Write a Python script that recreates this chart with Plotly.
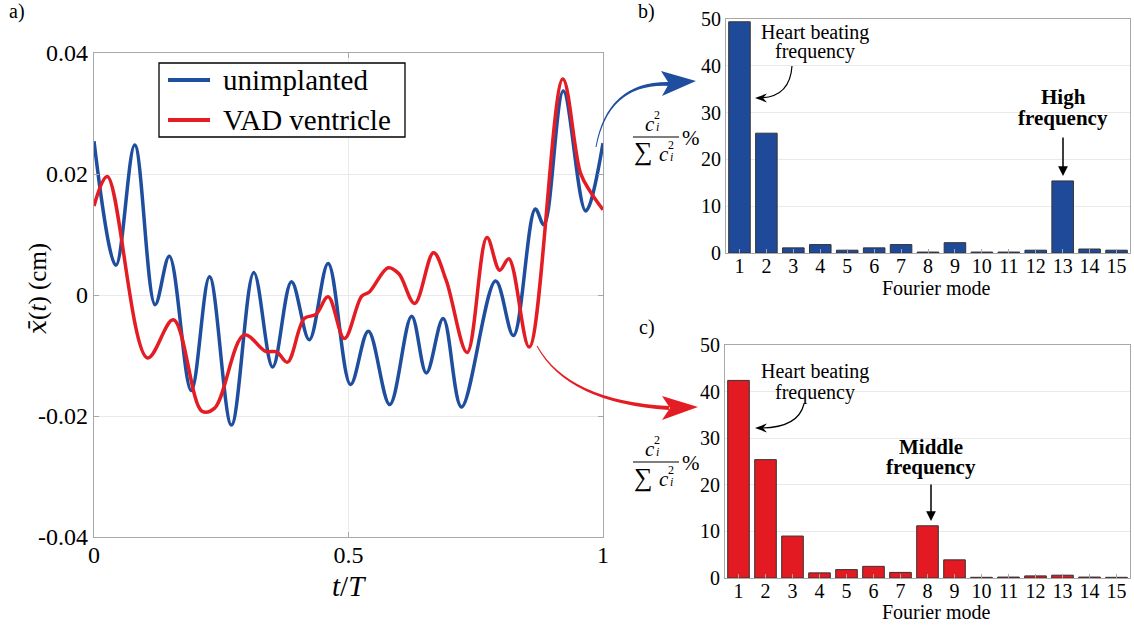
import numpy as np
import plotly.graph_objects as go

W, H = 1134, 625

# ---------------- data ----------------
t_unimplanted = [0.0, 0.043, 0.080, 0.120, 0.148, 0.191, 0.227, 0.270, 0.314, 0.351, 0.388,
                 0.423, 0.460, 0.504, 0.539, 0.581, 0.624, 0.653, 0.686, 0.722, 0.789, 0.824,
                 0.867, 0.884, 0.922, 0.966, 1.0]
x_unimplanted = [0.0254, 0.0049, 0.0248, -0.0016, 0.0064, -0.0158, 0.0030, -0.0215, 0.0037,
                 -0.0119, 0.0022, -0.0074, 0.0052, -0.0148, -0.0060, -0.0181, -0.0035, -0.0129,
                 -0.0039, -0.0185, 0.0023, -0.0067, 0.0142, 0.0116, 0.0337, 0.0139, 0.0251]

t_vad = [0.0, 0.026, 0.105, 0.156, 0.212, 0.237, 0.295, 0.337, 0.359, 0.380, 0.413, 0.436,
         0.460, 0.492, 0.526, 0.541, 0.578, 0.599, 0.630, 0.667, 0.692, 0.733, 0.772, 0.797,
         0.815, 0.855, 0.921, 0.956, 0.975, 1.0]
x_vad = [0.0147, 0.0196, -0.0104, -0.0041, -0.0192, -0.0187, -0.0066, -0.0093, -0.0094,
         -0.0111, -0.0039, -0.0032, -0.0003, -0.0072, -0.0002, 0.0005, 0.0045, 0.0035,
         -0.0014, 0.0070, 0.0024, -0.0095, 0.0095, 0.0041, 0.0060, -0.0086, 0.0357, 0.0201,
         0.0171, 0.0141]

series_names = ['unimplanted', 'VAD ventricle']

modes = list(range(1, 16))
energy_unimplanted = [49.4, 25.6, 1.1, 1.8, 0.6, 1.1, 1.8, 0.2, 2.2, 0.2, 0.2, 0.6, 15.4, 0.85, 0.6]
energy_vad = [42.4, 25.4, 9.0, 1.1, 1.8, 2.5, 1.2, 11.2, 3.9, 0.15, 0.2, 0.45, 0.6, 0.2, 0.15]

y_ticks = [-0.04, -0.02, 0, 0.02, 0.04]
y_ticktext = ['-0.04', '-0.02', '0', '0.02', '0.04']
x_ticks = [0, 0.5, 1]
x_ticktext = ['0', '0.5', '1']
bar_yticks = [0, 10, 20, 30, 40, 50]

BLUE = '#1f4e9f'
RED = '#e41c24'
FONT = 'Liberation Serif, Times New Roman, serif'
FRAME = '#a8a8a8'
GRID = '#e9e9e9'


def px(x):
    return x / W


def py(y):
    return 1 - y / H


def pt(p):
    return f"{px(p[0]):.5f},{py(p[1]):.5f}"


fig = go.Figure()

fig.add_trace(go.Scatter(x=t_unimplanted, y=x_unimplanted, mode='lines', name=series_names[0],
                         line=dict(color=BLUE, width=3.5, shape='spline', smoothing=1.0),
                         xaxis='x', yaxis='y', showlegend=False))
fig.add_trace(go.Scatter(x=t_vad, y=x_vad, mode='lines', name=series_names[1],
                         line=dict(color=RED, width=3.5, shape='spline', smoothing=1.0),
                         xaxis='x', yaxis='y', showlegend=False))

fig.add_trace(go.Bar(x=modes, y=energy_unimplanted, width=0.8, showlegend=False,
                     marker=dict(color='#1f4a9a', line=dict(color='#333333', width=1)),
                     xaxis='x2', yaxis='y2'))
fig.add_trace(go.Bar(x=modes, y=energy_vad, width=0.8, showlegend=False,
                     marker=dict(color='#e31a22', line=dict(color='#333333', width=1)),
                     xaxis='x3', yaxis='y3'))

common = dict(showline=True, linecolor=FRAME, linewidth=1.2, mirror='ticks', ticks='inside',
              tickcolor=FRAME, ticklen=5, zeroline=False, gridcolor=GRID, automargin=False,
              tickfont=dict(family=FONT, size=24, color='black'))

bar_x = dict(showline=True, linecolor=FRAME, linewidth=1.2, mirror=True, ticks='inside',
             tickcolor=FRAME, ticklen=4, zeroline=False, showgrid=False, automargin=False,
             ticklabelstandoff=-5,
             range=[0.5, 15.5], tickvals=modes, tickfont=dict(family=FONT, size=20, color='black'))
bar_y = dict(showline=True, linecolor=FRAME, linewidth=1.2, mirror=True, ticks='',
             zeroline=False, showgrid=True, gridcolor=GRID, range=[0, 50], tickvals=bar_yticks,
             automargin=False, tickfont=dict(family=FONT, size=20, color='black'))

fig.update_layout(
    width=W, height=H, autosize=False,
    margin=dict(l=0, r=0, t=0, b=0, autoexpand=False),
    paper_bgcolor='white', plot_bgcolor='white',
    font=dict(family=FONT, color='black'),
    xaxis=dict(domain=[px(94), px(603)], range=[0, 1], tickvals=x_ticks, ticktext=x_ticktext,
               anchor='y', ticklabelstandoff=-4, **common),
    yaxis=dict(domain=[py(537), py(53)], range=[-0.04, 0.04], tickvals=y_ticks,
               ticktext=y_ticktext, anchor='x', **common),
    xaxis2=dict(domain=[px(726), px(1130)], anchor='y2', **bar_x),
    yaxis2=dict(domain=[py(253), py(19)], anchor='x2', **bar_y),
    xaxis3=dict(domain=[px(725), px(1130)], anchor='y3', **bar_x),
    yaxis3=dict(domain=[py(578), py(345)], anchor='x3', **bar_y),
    showlegend=False,
)

ann = []


def text(x, y, s, size=20, **kw):
    d = dict(x=px(x), y=py(y), xref='paper', yref='paper', text=s, showarrow=False,
             xanchor='center', yanchor='middle', font=dict(family=FONT, size=size, color='black'))
    d.update(kw)
    ann.append(d)


shapes = []

# legend (drawn box, samples, labels)
shapes.append(dict(type='rect', xref='paper', yref='paper', x0=px(159), x1=px(405),
                   y0=py(137), y1=py(63), line=dict(color='black', width=1.3),
                   fillcolor='white', layer='above'))
for yy, col, name in ((80, BLUE, series_names[0]), (120, RED, series_names[1])):
    shapes.append(dict(type='line', xref='paper', yref='paper', x0=px(168), x1=px(210),
                       y0=py(yy), y1=py(yy), line=dict(color=col, width=4), layer='above'))
    text(221, yy, name, 29, xanchor='left')

# panel labels
text(17, 12, 'a)', 20)
text(646, 12, 'b)', 20)
text(647, 327, 'c)', 20)

# axis titles
text(38, 289, '<span style="font-family:DejaVu Serif"><i>x̄</i></span>(<i>t</i>) (cm)', 25,
     textangle=-90)
text(349, 586, '<i>t</i>/<i>T</i>', 29)
text(936, 288, 'Fourier mode', 20)
text(936, 612, 'Fourier mode', 20)

# annotations b)
text(815, 32, 'Heart beating', 20)
text(815, 52, 'frequency', 20)
text(1063, 97, '<b>High</b>', 21)
text(1063, 118, '<b>frequency</b>', 21)
# annotations c)
text(815, 372, 'Heart beating', 20)
text(815, 392, 'frequency', 20)
text(931, 447, '<b>Middle</b>', 21)
text(931, 467, '<b>frequency</b>', 21)

# fraction labels  c_i^2 / sum c_i^2 %
for yc in (137, 462):
    text(650, yc - 13, '<i>c</i>', 21)
    text(657, yc - 22, '2', 12)
    text(657, yc - 10, '<i>i</i>', 12)
    text(643, yc + 15, '∑', 26)
    text(664, yc + 17, '<i>c</i>', 21)
    text(671, yc + 8, '2', 12)
    text(671, yc + 20, '<i>i</i>', 12)
    text(680, yc + 1, '%', 21, xanchor='left')
    shapes.append(dict(type='line', xref='paper', yref='paper', x0=px(633), x1=px(679),
                       y0=py(yc), y1=py(yc), line=dict(color='black', width=1.2)))

# straight arrows
for tip, length in (((1063, 176), 40), ((931, 521), 38)):
    ann.append(dict(x=px(tip[0]), y=py(tip[1]), xref='paper', yref='paper', text='',
                    showarrow=True, ax=0, ay=-length, arrowhead=2, arrowsize=1.3,
                    arrowwidth=1.5, arrowcolor='black'))


def tapered(p0, c, p1, w0, w1, color):
    p0, c, p1 = np.array(p0, float), np.array(c, float), np.array(p1, float)

    def nrm(d):
        d = d / np.linalg.norm(d)
        return np.array([-d[1], d[0]])
    n0, nc, n1 = nrm(c - p0), nrm(p1 - p0), nrm(p1 - c)
    a0, b0 = p0 + n0 * w0 / 2, p0 - n0 * w0 / 2
    ac, bc = c + nc * (w0 + w1) / 4, c - nc * (w0 + w1) / 4
    a1, b1 = p1 + n1 * w1 / 2, p1 - n1 * w1 / 2
    path = f"M {pt(a0)} Q {pt(ac)} {pt(a1)} L {pt(b1)} Q {pt(bc)} {pt(b0)} Z"
    shapes.append(dict(type='path', xref='paper', yref='paper', path=path,
                       fillcolor=color, line=dict(width=0)))


def head(pts, color):
    path = 'M ' + ' L '.join(pt(p) for p in pts) + ' Z'
    shapes.append(dict(type='path', xref='paper', yref='paper', path=path,
                       fillcolor=color, line=dict(width=0)))


def curve(p0, c, p1, color, width):
    path = f"M {pt(p0)} Q {pt(c)} {pt(p1)}"
    shapes.append(dict(type='path', xref='paper', yref='paper', path=path,
                       line=dict(color=color, width=width)))


# big connecting arrows
tapered((596, 147), (608, 82), (669, 84), 1.0, 4.0, BLUE)
head([(696, 81), (661, 71), (669, 83.5), (662, 96)], BLUE)
tapered((537, 346), (568, 402), (669, 408), 1.0, 4.0, RED)
head([(698, 407), (662, 396), (670, 408), (662, 420)], RED)

# small curved black arrows
curve((792, 66), (790, 97), (760, 98), 'black', 1.2)
head([(755, 98), (767, 93.5), (763, 98), (767, 102.5)], 'black')
curve((804, 404), (798, 428), (760, 428), 'black', 1.2)
head([(755, 428), (767, 423.5), (763, 428), (767, 432.5)], 'black')

fig.update_layout(annotations=ann, shapes=shapes)

fig.write_html('out.html', config={'displayModeBar': False},
               post_script="document.body.style.margin='0px';document.body.style.padding='0px';"
                           "document.documentElement.style.overflow='hidden';")
